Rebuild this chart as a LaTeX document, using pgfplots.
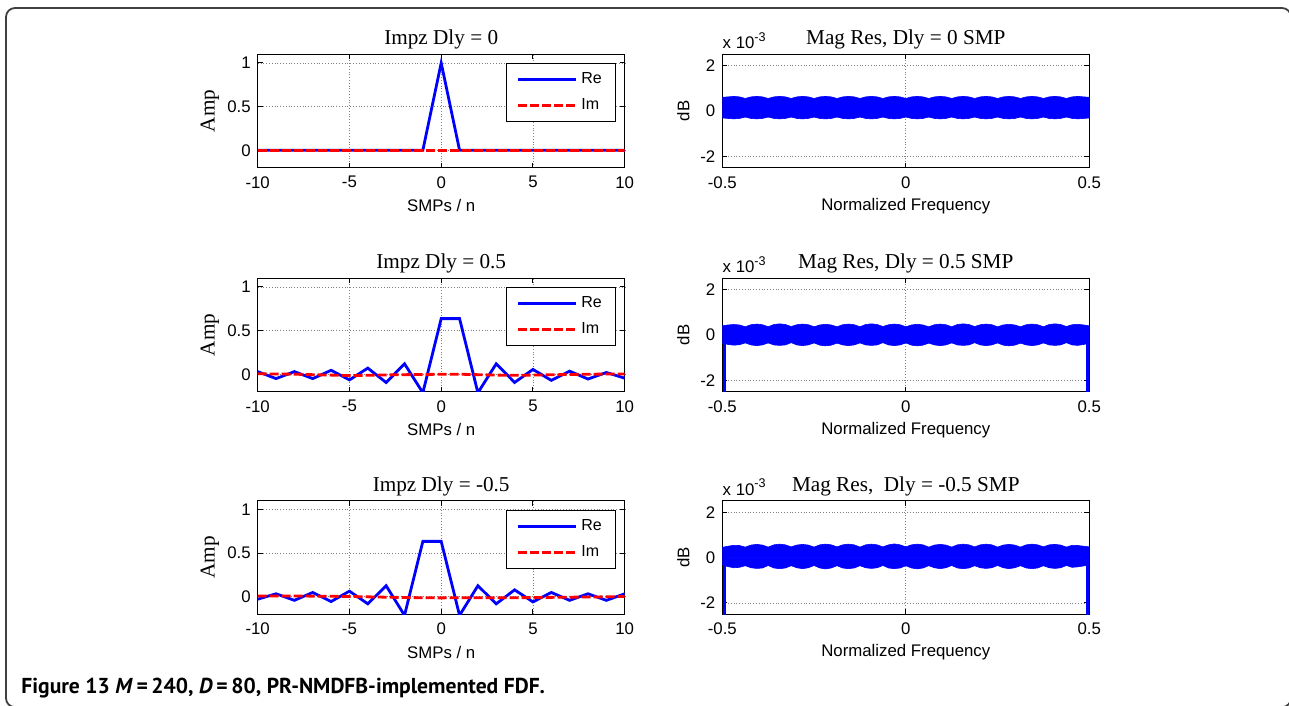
\documentclass[border=0pt]{standalone}
\usepackage{fontspec}
\setmainfont{Liberation Serif}
\setsansfont{Liberation Sans}
\newfontfamily\capfont{PT Sans}
\usepackage{pgfplots}
\pgfplotsset{compat=1.18}
\usepackage{pgfplotstable}

% impulse responses, n = -10..10
\pgfplotstableread{
n   re1  im1   re2     im2     re3     im3
-10 0    0     0.030   0.005  -0.027   0.010
-9  0    0    -0.050   0.003   0.035   0.010
-8  0    0     0.030   0.000  -0.040   0.010
-7  0    0    -0.050  -0.005   0.050   0.008
-6  0    0     0.045  -0.010  -0.054   0.006
-5  0    0    -0.065  -0.015   0.065   0.004
-4  0    0     0.070  -0.012  -0.080   0.000
-3  0    0    -0.095  -0.008   0.127  -0.004
-2  0    0     0.120  -0.005  -0.212  -0.008
-1  0    0    -0.212  -0.003   0.635  -0.010
0   1    0     0.637   0.000   0.635  -0.012
1   0    0     0.637   0.000  -0.212  -0.010
2   0    0    -0.212  -0.005   0.127  -0.010
3   0    0     0.120  -0.010  -0.080  -0.010
4   0    0    -0.094  -0.012   0.080  -0.010
5   0    0     0.055  -0.010  -0.058  -0.008
6   0    0    -0.070  -0.006   0.050  -0.006
7   0    0     0.035  -0.003  -0.040  -0.004
8   0    0    -0.055   0.000   0.035  -0.002
9   0    0     0.020   0.002  -0.040   0.000
10  0    0    -0.045   0.003   0.035   0.005
}\impztab

% envelope of the magnitude ripple (x1e-3 dB), upper/lower edge per panel
\pgfplotstableread{
x       u1   l1    u2   l2    u3   l3
-0.5000 0.60 -0.31 0.40 -0.36 0.45 -0.32
-0.4844 0.62 -0.33 0.44 -0.42 0.50 -0.40
-0.4688 0.64 -0.35 0.46 -0.45 0.54 -0.45
-0.4531 0.62 -0.33 0.44 -0.43 0.53 -0.43
-0.4375 0.55 -0.27 0.36 -0.35 0.46 -0.36
-0.4219 0.62 -0.33 0.45 -0.44 0.55 -0.45
-0.4063 0.64 -0.35 0.48 -0.47 0.58 -0.48
-0.3906 0.62 -0.33 0.45 -0.44 0.55 -0.46
-0.3750 0.55 -0.27 0.36 -0.35 0.46 -0.35
-0.3594 0.62 -0.33 0.46 -0.44 0.56 -0.46
-0.3438 0.64 -0.35 0.49 -0.46 0.59 -0.49
-0.3281 0.62 -0.33 0.46 -0.44 0.56 -0.46
-0.3125 0.55 -0.27 0.37 -0.34 0.47 -0.36
-0.2969 0.62 -0.33 0.45 -0.44 0.55 -0.45
-0.2813 0.64 -0.35 0.48 -0.47 0.58 -0.49
-0.2656 0.62 -0.33 0.45 -0.44 0.55 -0.45
-0.2500 0.55 -0.27 0.36 -0.35 0.46 -0.35
-0.2344 0.62 -0.33 0.44 -0.45 0.56 -0.46
-0.2188 0.64 -0.35 0.47 -0.48 0.59 -0.50
-0.2031 0.62 -0.33 0.44 -0.45 0.56 -0.46
-0.1875 0.55 -0.27 0.36 -0.36 0.47 -0.36
-0.1719 0.62 -0.33 0.45 -0.44 0.56 -0.46
-0.1563 0.64 -0.35 0.48 -0.47 0.59 -0.49
-0.1406 0.62 -0.33 0.45 -0.44 0.56 -0.46
-0.1250 0.55 -0.27 0.36 -0.35 0.46 -0.36
-0.1094 0.62 -0.33 0.46 -0.44 0.56 -0.45
-0.0938 0.64 -0.35 0.49 -0.46 0.59 -0.48
-0.0781 0.62 -0.33 0.46 -0.44 0.56 -0.45
-0.0625 0.55 -0.27 0.37 -0.34 0.47 -0.35
-0.0469 0.62 -0.33 0.45 -0.44 0.56 -0.46
-0.0313 0.64 -0.35 0.48 -0.47 0.60 -0.49
-0.0156 0.62 -0.33 0.45 -0.44 0.56 -0.46
0.0000  0.55 -0.27 0.36 -0.35 0.47 -0.36
0.0156  0.62 -0.33 0.44 -0.45 0.56 -0.46
0.0313  0.64 -0.35 0.47 -0.48 0.59 -0.50
0.0469  0.62 -0.33 0.44 -0.45 0.56 -0.46
0.0625  0.55 -0.27 0.36 -0.36 0.46 -0.36
0.0781  0.62 -0.33 0.45 -0.44 0.55 -0.45
0.0938  0.64 -0.35 0.48 -0.47 0.58 -0.49
0.1094  0.62 -0.33 0.45 -0.44 0.55 -0.45
0.1250  0.55 -0.27 0.36 -0.35 0.46 -0.35
0.1406  0.62 -0.33 0.46 -0.44 0.56 -0.46
0.1563  0.64 -0.35 0.49 -0.46 0.59 -0.49
0.1719  0.62 -0.33 0.46 -0.44 0.56 -0.46
0.1875  0.55 -0.27 0.37 -0.34 0.47 -0.36
0.2031  0.62 -0.33 0.45 -0.44 0.56 -0.45
0.2188  0.64 -0.35 0.48 -0.47 0.59 -0.48
0.2344  0.62 -0.33 0.45 -0.44 0.56 -0.45
0.2500  0.55 -0.27 0.36 -0.35 0.46 -0.35
0.2656  0.62 -0.33 0.44 -0.45 0.55 -0.45
0.2813  0.64 -0.35 0.47 -0.48 0.58 -0.49
0.2969  0.62 -0.33 0.44 -0.45 0.55 -0.45
0.3125  0.55 -0.27 0.36 -0.36 0.46 -0.36
0.3281  0.62 -0.33 0.45 -0.44 0.56 -0.46
0.3438  0.64 -0.35 0.48 -0.47 0.59 -0.49
0.3594  0.62 -0.33 0.45 -0.44 0.56 -0.46
0.3750  0.55 -0.27 0.36 -0.35 0.47 -0.36
0.3906  0.62 -0.33 0.46 -0.44 0.56 -0.45
0.4063  0.64 -0.35 0.49 -0.46 0.58 -0.48
0.4219  0.62 -0.33 0.46 -0.44 0.55 -0.45
0.4375  0.55 -0.27 0.37 -0.34 0.46 -0.35
0.4531  0.62 -0.33 0.45 -0.44 0.54 -0.43
0.4688  0.64 -0.35 0.47 -0.46 0.53 -0.41
0.4844  0.62 -0.33 0.44 -0.42 0.50 -0.37
0.5000  0.60 -0.31 0.40 -0.36 0.47 -0.32
}\bandtab

\newcommand\tickfont{\sffamily\fontsize{8.4}{10}\selectfont}
\newcommand\serfont{\rmfamily\fontsize{10.6}{12}\selectfont}

\pgfplotsset{
  mlab/.style={
    scale only axis, width=183.5pt, height=56.75pt,
    axis line style={line width=0.6pt},
    grid=major,
    major grid style={densely dotted, black!50, line width=0.4pt},
    tick align=inside, major tick length=2.5pt,
    tick style={line width=0.5pt, black},
    /pgf/number format/assume math mode=true,
    ticklabel style={font=\tickfont},
    xticklabel style={yshift=-0.8pt},
    every axis title shift=0pt,
    title style={font=\serfont, at={(axis description cs:0.5,1)}, anchor=base, yshift=4.7pt},
    xlabel style={font=\tickfont, at={(axis description cs:0.5,-0.335)}, anchor=center},
  },
  impz/.style={mlab,
    xmin=-10, xmax=10, ymin=-0.2, ymax=1.1,
    xtick={-10,-5,0,5,10}, ytick={0,0.5,1},
    xlabel={SMPs / n}, ylabel={Amp},
    ylabel style={font=\serfont, at={(axis description cs:-0.13,0.5)}, anchor=center},
    legend style={at={(0.977,0.921)}, anchor=north east, font=\sffamily\fontsize{8}{9.6}\selectfont,
      draw=black, line width=0.5pt, inner xsep=5pt, inner ysep=2.5pt, row sep=2pt},
    legend cell align=left,
    legend image code/.code={\draw[##1] (0pt,0pt) -- (29pt,0pt);},
  },
  mag/.style={mlab,
    xmin=-0.5, xmax=0.5, ymin=-2.5, ymax=2.5,
    xtick={-0.5,0,0.5}, ytick={-2,0,2},
    xlabel={Normalized Frequency}, ylabel={dB},
    ylabel style={font=\tickfont, at={(axis description cs:-0.106,0.5)}, anchor=center},
  },
  re/.style={blue, line width=1.4pt},
  im/.style={red, line width=1.4pt, dash pattern=on 4.5pt off 1.5pt},
  band/.style={fill=blue, draw=blue, line width=0.3pt},
}
\newcommand\sci{x 10\raisebox{0.9ex}{\fontsize{6.3}{7}\selectfont -3}}

\begin{document}
\begin{tikzpicture}
\useasboundingbox (0,0) rectangle (644.5pt,353pt);
\begin{scope}
\clip (0,0) rectangle (644.5pt,353pt);
\draw[line width=0.9pt, black!75, rounded corners=4.5pt] (3pt,-0.6pt) rectangle (645.5pt,349pt);
\end{scope}

% ---- row 1
\begin{axis}[impz, name=a1, at={(128.85pt,269.15pt)}, anchor=south west, title={Impz Dly = 0}]
\addplot[re] table[x=n, y=re1] {\impztab};
\addplot[im] table[x=n, y=im1] {\impztab};
\legend{Re, Im}
\end{axis}
\begin{axis}[mag, name=b1, at={(361.15pt,269.15pt)}, anchor=south west, title={Mag Res, Dly = 0 SMP}]
\addplot[band] table[x=x, y=u1] {\bandtab} \closedcycle;
\addplot[band] table[x=x, y=l1] {\bandtab} \closedcycle;
\end{axis}
\node[anchor=base west, font=\tickfont, inner sep=0pt] at ([yshift=2.6pt]b1.north west) {\sci};

% ---- row 2
\begin{axis}[impz, name=a2, at={(128.85pt,157.15pt)}, anchor=south west, title={Impz Dly = 0.5}]
\addplot[re] table[x=n, y=re2] {\impztab};
\addplot[im] table[x=n, y=im2] {\impztab};
\legend{Re, Im}
\end{axis}
\begin{axis}[mag, name=b2, at={(361.15pt,157.15pt)}, anchor=south west, title={Mag Res, Dly = 0.5 SMP}]
\addplot[band] table[x=x, y=u2] {\bandtab} \closedcycle;
\addplot[band] table[x=x, y=l2] {\bandtab} \closedcycle;
\addplot[blue, line width=1.4pt] coordinates {(-0.4945,-3) (-0.4945,0)};
\addplot[blue, line width=1.4pt] coordinates {(0.4945,-3) (0.4945,0)};
\end{axis}
\node[anchor=base west, font=\tickfont, inner sep=0pt] at ([yshift=2.6pt]b2.north west) {\sci};

% ---- row 3
\begin{axis}[impz, name=a3, at={(128.85pt,45.85pt)}, anchor=south west, title={Impz Dly = -0.5}]
\addplot[re] table[x=n, y=re3] {\impztab};
\addplot[im] table[x=n, y=im3] {\impztab};
\legend{Re, Im}
\end{axis}
\begin{axis}[mag, name=b3, at={(361.15pt,45.85pt)}, anchor=south west, title={Mag Res,\ \ Dly = -0.5 SMP}]
\addplot[band] table[x=x, y=u3] {\bandtab} \closedcycle;
\addplot[band] table[x=x, y=l3] {\bandtab} \closedcycle;
\addplot[blue, line width=1.4pt] coordinates {(-0.4945,-3) (-0.4945,0)};
\addplot[blue, line width=1.4pt] coordinates {(0.4945,-3) (0.4945,0)};
\end{axis}
\node[anchor=base west, font=\tickfont, inner sep=0pt] at ([yshift=2.6pt]b3.north west) {\sci};

% caption
\node[anchor=base west, inner sep=0pt, font=\capfont\bfseries\fontsize{10.8}{13}\selectfont] at (10.5pt,6pt)
  {Figure 13 \textit{M}\,=\,240, \textit{D}\,=\,80, PR-NMDFB-implemented FDF.};
\end{tikzpicture}
\end{document}
